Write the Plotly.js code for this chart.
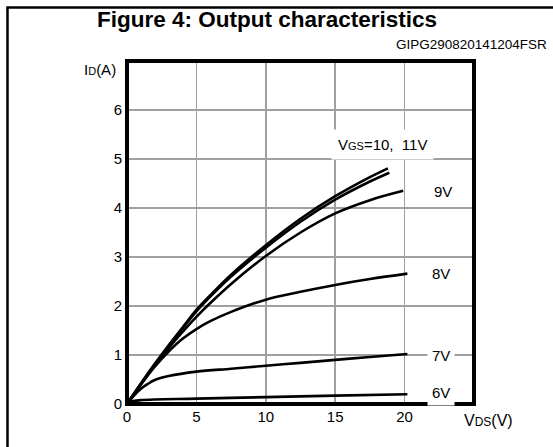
<!DOCTYPE html>
<html>
<head>
<meta charset="utf-8">
<script src="https://cdn.plot.ly/plotly-3.0.1.min.js"></script>
<style>html,body{margin:0;padding:0;background:#fff;}#chart{width:553px;height:447px;}</style>
</head>
<body>
<div id="chart"></div>
<script>
// ---- data ----
const vds11 = [0, 1, 2, 3, 4, 5, 6, 7.5, 10, 12.5, 15, 17.5, 18.8];
const id11  = [0, 0.42, 0.82, 1.2, 1.56, 1.92, 2.22, 2.64, 3.24, 3.78, 4.24, 4.63, 4.81];
const vds10 = [0, 1, 2, 3, 4, 5, 6, 7.5, 10, 12.5, 15, 17.5, 18.9];
const id10  = [0, 0.41, 0.8, 1.18, 1.54, 1.89, 2.19, 2.6, 3.19, 3.72, 4.17, 4.54, 4.72];
const vds9  = [0, 1, 2, 3, 4, 5, 6, 7.5, 10, 12.5, 15, 17.5, 19.9];
const id9   = [0, 0.4, 0.78, 1.14, 1.47, 1.78, 2.06, 2.45, 3.02, 3.5, 3.89, 4.16, 4.35];
const vds8  = [0, 1, 2, 3, 4, 5, 6, 7.5, 10, 12.5, 15, 17.5, 20.2];
const id8   = [0, 0.4, 0.76, 1.07, 1.33, 1.53, 1.69, 1.88, 2.13, 2.29, 2.43, 2.55, 2.66];
const vds7  = [0, 0.5, 1, 1.5, 2, 3, 5, 7.5, 10, 12.5, 15, 17.5, 20.2];
const id7   = [0, 0.17, 0.31, 0.41, 0.49, 0.57, 0.66, 0.72, 0.78, 0.84, 0.9, 0.96, 1.02];
const vds6  = [0, 1, 5, 10, 15, 20.2];
const id6   = [0.04, 0.08, 0.11, 0.14, 0.17, 0.2];

const xTicks = [0, 5, 10, 15, 20];
const yTicks = [0, 1, 2, 3, 4, 5, 6];

const curveLabels = ['V<span style="font-size:11px">GS</span>=10,\u00a0 11V', '9V', '8V', '7V', '6V'];
const labelX = [18.4, 22.8, 22.6, 22.6, 22.6];
const labelY = [5.3, 4.33, 2.66, 0.98, 0.23];

// ---- geometry helpers ----
const W = 553, H = 447;
const L = 127, R = 474, T = 61, B = 404;
const px = p => (p - L) / (R - L);
const py = p => (B - p) / (B - T);

const FONT = 'Liberation Sans, Arial, sans-serif';

function curve(x, y) {
  return {x: x, y: y, type: 'scatter', mode: 'lines',
          line: {color: '#000', width: 2.6, shape: 'spline', smoothing: 1},
          hoverinfo: 'skip', showlegend: false};
}
const traces = [
  curve(vds11, id11), curve(vds10, id10), curve(vds9, id9),
  curve(vds8, id8), curve(vds7, id7), curve(vds6, id6)
];

const annotations = [];
for (let i = 0; i < curveLabels.length; i++) {
  annotations.push({x: labelX[i], y: labelY[i], xref: 'x', yref: 'y', text: curveLabels[i],
    showarrow: false, font: {family: FONT, size: 15, color: '#000'},
    bgcolor: '#fff', borderpad: i === 0 ? 6 : 4, xanchor: 'center', yanchor: 'middle'});
}
annotations.push({x: px(267), y: py(19), xref: 'paper', yref: 'paper',
  text: '<b>Figure 4: Output characteristics</b>', showarrow: false,
  font: {family: FONT, size: 22.5, color: '#000'}, xanchor: 'center', yanchor: 'middle'});
annotations.push({x: px(549), y: py(44), xref: 'paper', yref: 'paper',
  text: 'GIPG290820141204FSR', showarrow: false,
  font: {family: FONT, size: 13.5, color: '#000'}, xanchor: 'right', yanchor: 'middle'});
annotations.push({x: px(118), y: py(69), xref: 'paper', yref: 'paper',
  text: 'I<span style="font-size:11px">D</span>(A)', showarrow: false,
  font: {family: FONT, size: 15, color: '#000'}, xanchor: 'right', yanchor: 'middle'});
annotations.push({x: px(462), y: py(420), xref: 'paper', yref: 'paper',
  text: 'V<span style="font-size:12px">DS</span>(V)', showarrow: false,
  font: {family: FONT, size: 16, color: '#000'}, xanchor: 'left', yanchor: 'middle'});

const shapes = [
  // plot frame
  {type: 'rect', xref: 'paper', yref: 'paper', x0: 0, x1: 1, y0: 0, y1: 1,
   line: {color: '#000', width: 4}, layer: 'above'},
  // page border (left and top)
  {type: 'line', xref: 'paper', yref: 'paper', x0: px(7.5), x1: px(7.5), y0: py(7.5), y1: py(460),
   line: {color: '#000', width: 2.5}},
  {type: 'line', xref: 'paper', yref: 'paper', x0: px(6.3), x1: px(560), y0: py(7.5), y1: py(7.5),
   line: {color: '#000', width: 2.5}}
];

const layout = {
  width: W, height: H,
  margin: {l: L, r: W - R, t: T, b: H - B, pad: 0},
  paper_bgcolor: '#fff', plot_bgcolor: '#fff',
  showlegend: false,
  font: {family: FONT, color: '#000'},
  xaxis: {range: [0, 25], tickvals: xTicks, ticktext: xTicks.map(String),
          showgrid: true, gridcolor: '#a0a0a0', gridwidth: 1.6, zeroline: false,
          showline: false, ticks: '', tickfont: {family: FONT, size: 15, color: '#000'},
          ticklabelstandoff: 2, fixedrange: true},
  yaxis: {range: [0, 7], tickvals: yTicks, ticktext: yTicks.map(String),
          showgrid: true, gridcolor: '#a0a0a0', gridwidth: 1.6, zeroline: false,
          showline: false, ticks: '', tickfont: {family: FONT, size: 15, color: '#000'},
          ticklabelstandoff: 4, fixedrange: true},
  annotations: annotations,
  shapes: shapes
};

Plotly.newPlot('chart', traces, layout, {displayModeBar: false, staticPlot: true});
</script>
</body>
</html>
